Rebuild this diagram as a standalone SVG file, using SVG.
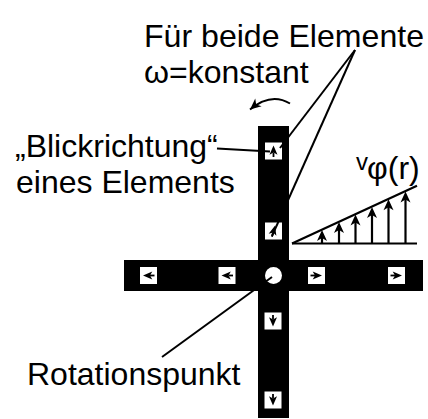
<svg xmlns="http://www.w3.org/2000/svg" width="428" height="419" viewBox="0 0 428 419">
  <style>
    .lbl { font-family: "Liberation Sans", Arial, sans-serif; font-size: 32px; fill: #000; }
    .lead { stroke: #000; stroke-width: 2; fill: none; }
    .bar { fill: #000; }
    .cell { fill: #fff; }
    .vel { stroke: #000; stroke-width: 2.2; fill: none; }
  </style>
  <defs>
    <!-- barbed arrowhead pointing in +x, tip at the origin -->
    <path id="head" d="M0,0 L-11,-5 L-8,0 L-11,5 Z" fill="#000"/>
    <!-- element glyph: small dart pointing in +x, centred on the origin -->
    <g id="dart">
      <path d="M5.5,0 L-3.8,-4 L-1.5,0 L-3.8,4 Z" fill="#000"/>
      <line x1="-1.5" y1="0" x2="-6" y2="0" stroke="#000" stroke-width="1.8"/>
    </g>
    <marker id="curveHead" viewBox="-12 -6 13 12" markerWidth="13" markerHeight="12" refX="0" refY="0" orient="auto" markerUnits="userSpaceOnUse">
      <use href="#head"/>
    </marker>
  </defs>

  <!-- rotating cross -->
  <g id="cross">
    <rect class="bar" x="258" y="126" width="31" height="292"/>
    <rect class="bar" x="124" y="260" width="299" height="31"/>
    <circle cx="273.5" cy="275.5" r="8.5" fill="#fff"/>
  </g>

  <!-- elements on the arms, each looking outward -->
  <g id="elem-left-outer">
    <rect class="cell" x="140" y="267" width="17" height="17"/>
    <use href="#dart" transform="translate(148.5,275.5) rotate(180)"/>
  </g>
  <g id="elem-left-inner">
    <rect class="cell" x="218.5" y="267" width="17" height="17"/>
    <use href="#dart" transform="translate(227,275.5) rotate(180)"/>
  </g>
  <g id="elem-right-inner">
    <rect class="cell" x="308" y="267" width="17" height="17"/>
    <use href="#dart" transform="translate(316.5,275.5)"/>
  </g>
  <g id="elem-right-outer">
    <rect class="cell" x="388" y="267" width="17" height="17"/>
    <use href="#dart" transform="translate(396.5,275.5)"/>
  </g>
  <g id="elem-top-outer">
    <rect class="cell" x="265" y="142.5" width="17" height="17"/>
    <use href="#dart" transform="translate(273.5,151) rotate(-90)"/>
  </g>
  <g id="elem-top-inner">
    <rect class="cell" x="265" y="222.5" width="17" height="17"/>
    <use href="#dart" transform="translate(273.5,231) rotate(-75)"/>
  </g>
  <g id="elem-bottom-inner">
    <rect class="cell" x="264.5" y="312.5" width="17" height="17"/>
    <use href="#dart" transform="translate(273,321) rotate(90)"/>
  </g>
  <g id="elem-bottom-outer">
    <rect class="cell" x="264.5" y="391.5" width="17" height="17"/>
    <use href="#dart" transform="translate(273,400) rotate(90)"/>
  </g>

  <!-- velocity profile v_phi(r) -->
  <g id="velocity-profile">
    <line class="vel" x1="292" y1="243.5" x2="417" y2="243.5"/>
    <line class="vel" x1="292" y1="243.5" x2="417" y2="185.8"/>
    <line class="vel" x1="322" y1="243.5" x2="322" y2="238"/>
    <use href="#head" transform="translate(322,230) rotate(-90)"/>
    <line class="vel" x1="339" y1="243.5" x2="339" y2="230"/>
    <use href="#head" transform="translate(339,222) rotate(-90)"/>
    <line class="vel" x1="355.5" y1="243.5" x2="355.5" y2="222"/>
    <use href="#head" transform="translate(355.5,214.5) rotate(-90)"/>
    <line class="vel" x1="372" y1="243.5" x2="372" y2="215"/>
    <use href="#head" transform="translate(372,207) rotate(-90)"/>
    <line class="vel" x1="388.5" y1="243.5" x2="388.5" y2="207"/>
    <use href="#head" transform="translate(388.5,199.2) rotate(-90)"/>
    <line class="vel" x1="405.5" y1="243.5" x2="405.5" y2="199"/>
    <use href="#head" transform="translate(405.5,191.4) rotate(-90)"/>
    <text class="lbl"><tspan x="356" y="169.5" font-size="24">v</tspan><tspan x="367" y="179">φ(r)</tspan></text>
  </g>

  <!-- connectors: leader lines and direction of rotation -->
  <g id="connectors">
    <path class="lead" d="M290,103.5 Q271,92 250,109.5" marker-end="url(#curveHead)"/>
    <line class="lead" x1="355" y1="50" x2="280" y2="148"/>
    <line class="lead" x1="355" y1="50" x2="272" y2="236"/>
    <line class="lead" x1="217" y1="148.5" x2="270" y2="151.5"/>
    <line class="lead" x1="162" y1="357" x2="272" y2="277"/>
  </g>

  <!-- labels -->
  <g id="labels">
    <text class="lbl" x="144" y="47" font-size="31" textLength="280" lengthAdjust="spacingAndGlyphs">Für beide Elemente</text>
    <text class="lbl" x="144" y="83" font-size="31">ω=konstant</text>
    <text class="lbl" x="15" y="157">„Blickrichtung“</text>
    <text class="lbl" x="16" y="193">eines Elements</text>
    <text class="lbl" x="27" y="385">Rotationspunkt</text>
  </g>
</svg>
